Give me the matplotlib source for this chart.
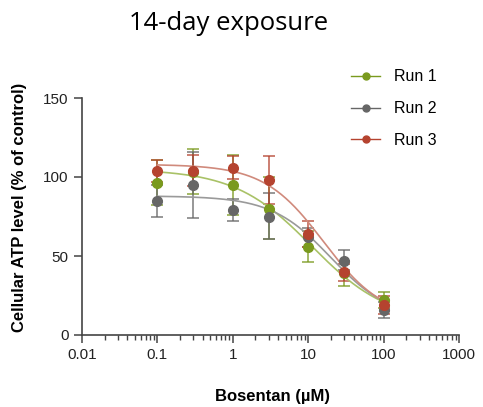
import numpy as np
import matplotlib
matplotlib.use("Agg")
import matplotlib.pyplot as plt

plt.rcParams['font.family'] = ['Liberation Sans', 'DejaVu Sans']

conc = [0.1, 0.3, 1, 3, 10, 30, 100]

run1 = [96, 103, 95, 80, 56, 39, 22]
run1_lo = [82, 89, 76, 61, 46, 31, 17]
run1_hi = [111, 118, 114, 100, 66, 47, 27]

run2 = [85, 95, 79, 75, 62, 47, 16]
run2_lo = [75, 74, 72, 61, 56, 41, 11]
run2_hi = [95, 116, 86, 90, 68, 54, 21]

run3 = [104, 104, 106, 98, 64, 40, 19]
run3_lo = [97, 94, 99, 83, 56, 34, 13]
run3_hi = [111, 114, 113, 113, 72, 45, 25]

# 4PL fit parameters: top, bottom, IC50, hill
fit1 = (105, 8, 11, 0.85)
fit2 = (88, 10, 20, 1.1)
fit3 = (108, 10, 16, 1.1)

labels = ['Run 1', 'Run 2', 'Run 3']
colors = ['#7a9a1e', '#666666', '#b5432f']
curve_colors = ['#a9c267', '#9a9a9a', '#d08a7c']


def logistic(x, top, bottom, ic50, hill):
    return bottom + (top - bottom) / (1 + (x / ic50) ** hill)


fig = plt.figure(figsize=(4.83, 4.07), dpi=100)
ax = fig.add_axes([82 / 483, 1 - 335 / 407, (459 - 82) / 483, (335 - 98) / 407])

xs = np.logspace(-1, 2, 200)
data = [(run1, run1_lo, run1_hi, fit1), (run2, run2_lo, run2_hi, fit2),
        (run3, run3_lo, run3_hi, fit3)]
for (y, lo, hi, fit), lab, c, cc in zip(data, labels, colors, curve_colors):
    y = np.array(y)
    err = [y - np.array(lo), np.array(hi) - y]
    ax.errorbar(conc, y, yerr=err, fmt='none', ecolor=c, elinewidth=1.2,
                capsize=4, capthick=1.2, alpha=0.8, zorder=2)
    ax.plot(xs, logistic(xs, *fit), color=cc, lw=1.2, zorder=3)
    ax.plot(conc, y, 'o', color=c, ms=7, zorder=4)
    ax.plot([], [], '-o', color=c, ms=5, lw=1, label=lab)

ax.set_xscale('log')
ax.set_xlim(0.01, 1000)
ax.set_ylim(0, 150)
ax.set_yticks([0, 50, 100, 150])
ax.set_xticks([0.01, 0.1, 1, 10, 100, 1000])
ax.set_xticklabels(['0.01', '0.1', '1', '10', '100', '1000'])
for s in ['top', 'right']:
    ax.spines[s].set_visible(False)
for s in ['left', 'bottom']:
    ax.spines[s].set_color('#444444')
    ax.spines[s].set_linewidth(1.2)
ax.tick_params(axis='both', which='major', labelsize=11, length=6,
               color='#444444', colors='#222222', width=1.1)
ax.tick_params(axis='x', which='minor', length=3.5, color='#444444', width=1)

ax.set_ylabel('Cellular ATP level (% of control)', fontsize=12,
              fontweight='bold')
ax.yaxis.set_label_coords(-0.146, 0.538)
ax.set_xlabel('Bosentan (µM)', fontsize=12, fontweight='bold')
ax.xaxis.set_label_coords(0.504, -0.226)

fig.text(229 / 483, 1 - 23 / 407, '14-day exposure', fontsize=18.5,
         ha='center', va='center', family=['Open Sans', 'DejaVu Sans'])

fig.legend(loc='upper left', bbox_to_anchor=(337 / 483, 1 - 55 / 407),
           frameon=False, fontsize=11.5, handlelength=1.8, labelspacing=1.05,
           handletextpad=0.9)

fig.savefig('out.png', dpi=100)
